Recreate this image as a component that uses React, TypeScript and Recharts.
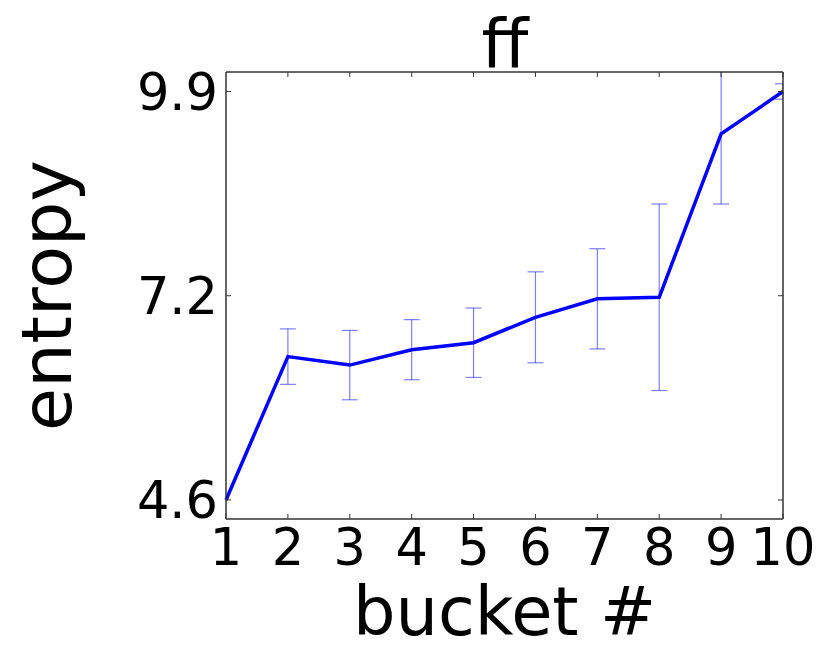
import { ErrorBar, Label, Line, LineChart, XAxis, YAxis } from "recharts";

// entropy per bucket, with the spread shown as error bars
const buckets = [1, 2, 3, 4, 5, 6, 7, 8, 9, 10];
const entropyMean = [4.6, 6.46, 6.35, 6.55, 6.64, 6.97, 7.21, 7.23, 9.35, 9.9];
const entropyErr = [null, 0.36, 0.45, 0.39, 0.45, 0.59, 0.65, 1.21, 0.91, 0.1];

const xTicks = buckets;
const yTicks = [4.6, 7.25, 9.9];
const yTickLabels = ["4.6", "7.2", "9.9"];

const FONT = "DejaVu Sans";
const FRAME = "#333";
const TICK_LEN = 5;
const yDomain: [number, number] = [4.353, 10.153];

// matplotlib-style ticks: marks point into the plot, labels outside
function BottomTick(props: any) {
  const { x, y, payload, margin } = props;
  const axisY = y - margin;
  return (
    <g>
      <line x1={x} x2={x} y1={axisY} y2={axisY - TICK_LEN} stroke={FRAME} strokeWidth={1} />
      <text x={x} y={y} dy="0.73em" textAnchor="middle" fontSize={51} fontFamily={FONT} fill="#000">
        {payload.value}
      </text>
    </g>
  );
}

function LeftTick(props: any) {
  const { x, y, payload, margin } = props;
  const axisX = x + margin;
  const i = yTicks.indexOf(payload.value);
  return (
    <g>
      <line x1={axisX} x2={axisX + TICK_LEN} y1={y} y2={y} stroke={FRAME} strokeWidth={1} />
      <text x={x} y={y} dy="0.36em" textAnchor="end" fontSize={51} fontFamily={FONT} fill="#000">
        {i >= 0 ? yTickLabels[i] : payload.value}
      </text>
    </g>
  );
}

function TopTick(props: any) {
  const { x, y } = props;
  return <line x1={x} x2={x} y1={y} y2={y + TICK_LEN} stroke={FRAME} strokeWidth={1} />;
}

function RightTick(props: any) {
  const { x, y } = props;
  return <line x1={x} x2={x - TICK_LEN} y1={y} y2={y} stroke={FRAME} strokeWidth={1} />;
}

export default function App() {
  const data = buckets.map((b, i) => ({
    bucket: b,
    entropy: entropyMean[i],
    err: entropyErr[i],
  }));

  return (
    <div style={{ position: "absolute", left: 0, top: 0, width: 830, height: 664, background: "#fff" }}>
      <LineChart
        width={830}
        height={664}
        data={data}
        margin={{ top: 71, right: 46, bottom: 0, left: 0 }}
      >
        <defs>
          <clipPath id="plot-clip">
            <rect x={226} y={72} width={557} height={447} />
          </clipPath>
        </defs>
        <XAxis
          dataKey="bucket"
          type="number"
          domain={[1, 10]}
          ticks={xTicks}
          interval={0}
          height={145}
          tick={<BottomTick margin={9} />}
          tickSize={0}
          tickMargin={9}
          tickLine={false}
          axisLine={{ stroke: FRAME, strokeWidth: 1.5 }}
        >
          <Label
            value="bucket #"
            position="insideBottom"
            offset={29}
            style={{ fontSize: 67, fill: "#000", fontFamily: FONT }}
          />
        </XAxis>
        <XAxis
          xAxisId="top"
          orientation="top"
          type="number"
          domain={[1, 10]}
          ticks={xTicks}
          interval={0}
          height={1}
          tick={<TopTick />}
          tickSize={0}
          tickMargin={0}
          tickLine={false}
          axisLine={{ stroke: FRAME, strokeWidth: 1.5 }}
        />
        <YAxis
          type="number"
          domain={yDomain}
          allowDataOverflow
          ticks={yTicks}
          interval={0}
          width={226}
          tick={<LeftTick margin={8} />}
          tickSize={0}
          tickMargin={8}
          tickLine={false}
          axisLine={{ stroke: FRAME, strokeWidth: 1.5 }}
        >
          <Label
            value="entropy"
            position="center"
            angle={-90}
            dx={-67}
            style={{ fontSize: 70, fill: "#000", fontFamily: FONT }}
          />
        </YAxis>
        <YAxis
          yAxisId="right"
          orientation="right"
          type="number"
          domain={yDomain}
          allowDataOverflow
          ticks={yTicks}
          interval={0}
          width={1}
          tick={<RightTick />}
          tickSize={0}
          tickMargin={0}
          tickLine={false}
          axisLine={{ stroke: FRAME, strokeWidth: 1.5 }}
        />
        <text x={505} y={68} textAnchor="middle" fontSize={68} fontFamily={FONT} fill="#000">
          ff
        </text>
        <Line
          type="linear"
          dataKey="entropy"
          stroke="#0000ff"
          strokeWidth={3.5}
          dot={false}
          activeDot={false}
          isAnimationActive={false}
        >
          <ErrorBar
            dataKey="err"
            direction="y"
            width={8}
            stroke="#0000ff"
            strokeOpacity={0.5}
            strokeWidth={1.2}
            clipPath="url(#plot-clip)"
            isAnimationActive={false}
          />
        </Line>
      </LineChart>
    </div>
  );
}
